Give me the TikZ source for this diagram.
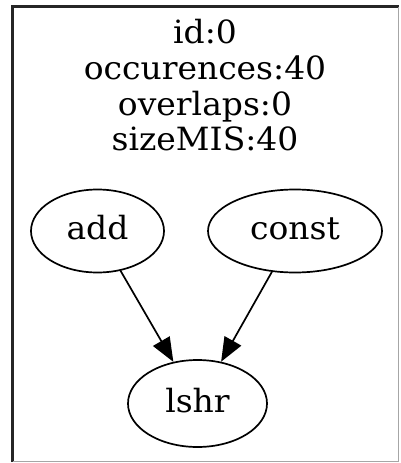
\documentclass[tikz,border=0pt]{standalone}
\usepackage{fontspec}
\setmainfont{DejaVu Serif}[FakeStretch=1.03]
\usetikzlibrary{shapes.geometric,arrows.meta}
\begin{document}
\begin{tikzpicture}[x=1pt,y=-1pt,
  lbl/.style={anchor=base,inner sep=0pt,font=\fontsize{32}{38}\selectfont},
  op/.style={draw,ellipse,line width=1.7pt,inner sep=0pt,font=\fontsize{32}{38}\selectfont,text height=17pt,text depth=0pt},
  edge/.style={line width=1.7pt,-{Triangle[length=24pt,width=19pt]}}]
\useasboundingbox (0,0) rectangle (400,463);
\draw[line width=2.2pt,black!85] (12.5,462) -- (12.5,6.5) -- (399,6.5);
\draw[line width=1.2pt,black!35] (398.5,6.5) -- (398.5,462) (12.5,461.5) -- (398.5,461.5);
\node[lbl] (t1) at (205,43) {id:0};
\node[lbl] (t2) at (205,79) {occurences:40};
\node[lbl] (t3) at (205,115) {overlaps:0};
\node[lbl] (t4) at (205,150) {sizeMIS:40};
\node[op,minimum width=133pt,minimum height=83pt] (add) at (97.5,231) {add};
\node[op,minimum width=174pt,minimum height=83pt] (const) at (295,231) {const};
\node[op,minimum width=139pt,minimum height=87pt] (lshr) at (197.5,403.5) {lshr};
\draw[edge] (add) -- (lshr);
\draw[edge] (const) -- (lshr);
\end{tikzpicture}
\end{document}
